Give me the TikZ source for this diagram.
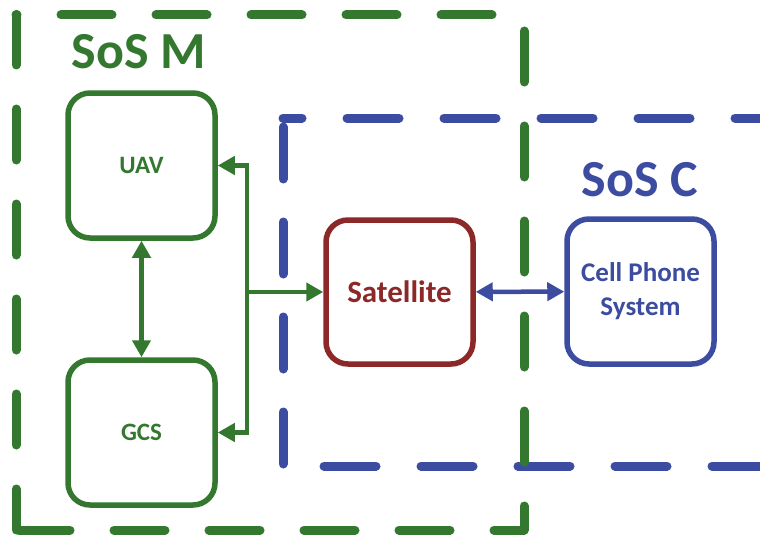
\documentclass[tikz,border=0pt]{standalone}
\usepackage{fontspec}
\setmainfont{Carlito}
\usetikzlibrary{arrows.meta}
\definecolor{mgreen}{RGB}{52,120,48}
\definecolor{cblue}{RGB}{60,76,160}
\definecolor{sred}{RGB}{140,40,40}
\tikzset{
  sysbox/.style={line width=5.5pt, rounded corners=22pt, minimum width=147pt,
    minimum height=145pt, align=center, inner sep=0pt, fill=white},
  link/.style={line width=4.5pt, {Triangle[length=17pt,width=18pt]}-{Triangle[length=17pt,width=18pt]}},
  onelink/.style={line width=4.5pt, -{Triangle[length=17pt,width=18pt]}},
  boundary/.style={line width=9pt, line cap=round},
  greendash/.style={boundary, draw=mgreen, dash pattern=on 51pt off 44pt},
  bluedash/.style={boundary, draw=cblue, dash pattern=on 52pt off 45pt},
}
\begin{document}
\begin{tikzpicture}[x=1pt,y=-1pt]
\useasboundingbox (0,0) rectangle (760,535);
\clip (0,0) rectangle (760,535);
\fill[white] (0,0) rectangle (760,535);

% SoS C boundary (open to the right)
\draw[bluedash, dash phase=33pt] (283,118) -- (800,118);
\draw[bluedash, dash pattern=on 52pt off 43pt, dash phase=86pt] (283,118) -- (283,466);
\draw[bluedash, dash phase=56pt] (283,466) -- (800,466);

% SoS M boundary
\draw[greendash, dash phase=50pt] (16,15) -- (524,15);
\draw[greendash, dash phase=79pt] (524,15) -- (524,530);
\draw[greendash, dash phase=92pt] (16,530) -- (524,530);
\draw[greendash, dash phase=1pt] (16,15) -- (16,530);

\node[font=\bfseries\fontsize{52}{52}\selectfont, text=mgreen] (sosm) at (139,52) {SoS M};
\node[font=\bfseries\fontsize{52}{52}\selectfont, text=cblue] (sosc) at (640,180) {SoS C};

% constituent systems
\node[sysbox, draw=mgreen, text=mgreen, font=\bfseries\fontsize{25}{25}\selectfont] (uav) at (141.5,165.5) {UAV};
\node[sysbox, draw=mgreen, text=mgreen, font=\bfseries\fontsize{25}{25}\selectfont] (gcs) at (141.5,432.5) {GCS};
\node[sysbox, draw=sred, text=sred, minimum height=144pt, font=\bfseries\fontsize{31}{31}\selectfont] (sat) at (399.5,292) {Satellite};
\node[sysbox, draw=cblue, text=cblue, font=\bfseries\fontsize{27}{34}\selectfont] (cell) at (640.5,291.5) {Cell Phone\\System};

% links
\coordinate (j) at (247,292);
\draw[link, mgreen] (uav) -- (gcs);
\draw[onelink, mgreen] (j) |- (uav.east);
\draw[onelink, mgreen] (j) |- (gcs.east);
\draw[onelink, mgreen] (j) -- (sat.west);
\draw[link, cblue] (sat) -- (cell);
\end{tikzpicture}
\end{document}
